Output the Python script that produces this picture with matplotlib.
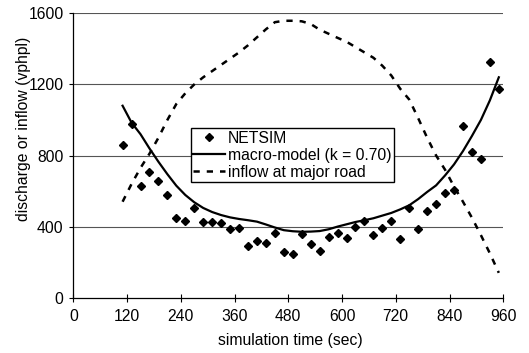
import matplotlib
matplotlib.use("Agg")
import matplotlib.pyplot as plt

plt.rcParams['font.family'] = ['Liberation Sans', 'DejaVu Sans']

# simulation time (sec)
times = [110, 130, 150, 170, 190, 210, 230, 250, 270, 290, 310, 330, 350, 370,
         390, 410, 430, 450, 470, 490, 510, 530, 550, 570, 590, 610, 630, 650,
         670, 690, 710, 730, 750, 770, 790, 810, 830, 850, 870, 890, 910, 930, 950]

netsim = [859, 975, 630, 709, 658, 578, 447, 433, 503, 428, 428, 422, 385, 394,
          293, 321, 309, 366, 257, 246, 357, 302, 263, 343, 362, 334, 400, 433,
          351, 394, 431, 330, 503, 385, 489, 525, 587, 606, 966, 821, 779, 1328, 1172]

macro = [1080, 985, 920, 840, 765, 695, 630, 578, 537, 505, 482, 465, 452, 443,
         436, 428, 412, 395, 380, 374, 371, 372, 375, 385, 400, 413, 426, 436,
         447, 462, 477, 497, 520, 555, 595, 632, 688, 750, 825, 910, 1000, 1110, 1240]

inflow = [540, 640, 730, 810, 900, 1000, 1090, 1150, 1200, 1240, 1275, 1310, 1345, 1380,
          1420, 1465, 1510, 1550, 1558, 1558, 1555, 1540, 1508, 1485, 1462, 1440, 1410, 1380,
          1350, 1305, 1250, 1175, 1115, 1010, 900, 800, 720, 625, 540, 450, 352, 250, 140]

xticks = [0, 120, 240, 360, 480, 600, 720, 840, 960]
yticks = [0, 400, 800, 1200, 1600]

FS = 11.3

fig = plt.figure(figsize=(5.29, 3.53), dpi=100)
ax = fig.add_axes([0.1386, 0.1566, 0.8128, 0.8057])

for y in yticks[1:]:
    ax.axhline(y, color='#555555', lw=0.8, zorder=0)

ax.plot(times, netsim, linestyle='none', marker='D', ms=4.3, color='black',
        label='NETSIM', zorder=3)
ax.plot(times, macro, color='black', lw=1.6, label='macro-model (k = 0.70)', zorder=2)
ax.plot(times, inflow, color='black', lw=1.8, dashes=(2.5, 2.8),
        label='inflow at major road', zorder=2)

ax.set_xlim(0, 960)
ax.set_ylim(0, 1600)
ax.set_xticks(xticks)
ax.set_yticks(yticks)
ax.tick_params(axis='x', direction='inout', length=6, width=0.8, pad=5, labelsize=FS)
ax.tick_params(axis='y', direction='out', length=3, width=0.8, pad=4, labelsize=FS)
for s in ['top', 'right']:
    ax.spines[s].set_visible(False)
for s in ['left', 'bottom']:
    ax.spines[s].set_linewidth(0.9)

ax.set_xlabel('simulation time (sec)', fontsize=FS)
ax.set_ylabel('discharge or inflow (vphpl)', fontsize=FS)
ax.xaxis.set_label_coords(0.504, -0.125)
ax.yaxis.set_label_coords(-0.098, 0.593)

leg = ax.legend(loc='upper left', bbox_to_anchor=(0.274, 0.596), fontsize=FS,
                frameon=True, fancybox=False, framealpha=1, edgecolor='black',
                borderpad=0.15, labelspacing=0.13, handlelength=2.0, handletextpad=0.2,
                borderaxespad=0)
leg.get_frame().set_linewidth(1.0)

fig.savefig('out.png', dpi=100)
